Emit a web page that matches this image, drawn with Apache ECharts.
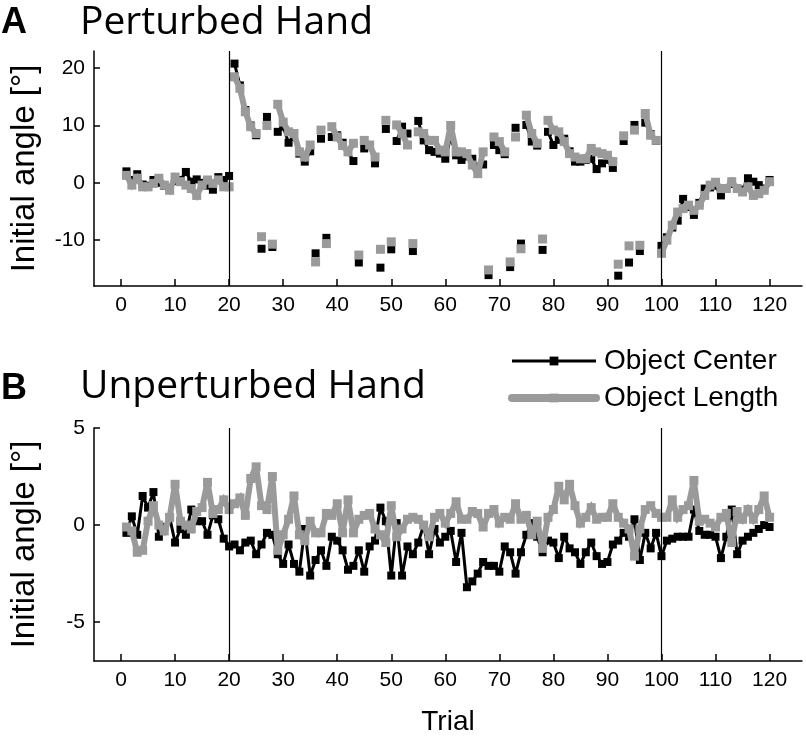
<!DOCTYPE html>
<html><head><meta charset="utf-8">
<script src="https://cdn.jsdelivr.net/npm/echarts@6/dist/echarts.min.js"></script>
<style>html,body{margin:0;padding:0;background:#fff}#c{width:806px;height:741px}</style>
</head><body><div id="c"></div>
<script>
const trials = [1,2,3,4,5,6,7,8,9,10,11,12,13,14,15,16,17,18,19,20,
  21,22,23,24,25,26,27,28,29,30,31,32,33,34,35,36,37,38,39,40,
  41,42,43,44,45,46,47,48,49,50,51,52,53,54,55,56,57,58,59,60,
  61,62,63,64,65,66,67,68,69,70,71,72,73,74,75,76,77,78,79,80,
  81,82,83,84,85,86,87,88,89,90,91,92,93,94,95,96,97,98,99,100,
  101,102,103,104,105,106,107,108,109,110,111,112,113,114,115,116,117,118,119,120];

const xTicks = [0,10,20,30,40,50,60,70,80,90,100,110,120];
const yTicksPerturbed = [-10,0,10,20];
const yTicksUnperturbed = [-5,0,5];
const phaseBoundaries = [20,100];
// trial ranges of the three phases (baseline, perturbation, washout)
const phases = [[1,20],[21,99],[100,120]];
// catch trials in the perturbation phase (plotted as unconnected squares)
const catchTrials = [26,28,36,38,44,48,50,54,68,72,74,78,92,94,96];

// Panel A: Perturbed Hand
const perturbedCenter = [2.0,0.5,1.5,-0.3,-0.5,0.5,0.0,-0.5,-1.0,0.3,0.5,1.9,0.2,0.6,0.0,-0.5,-1.2,1.0,0.5,1.2,
  20.8,17.0,12.7,10.0,8.3,-11.5,11.5,-11.2,8.9,9.8,7.0,8.0,5.1,3.7,5.5,-12.3,7.7,-9.6,8.0,8.3,
  7.0,5.5,3.8,-13.9,6.0,6.5,3.4,-14.8,9.4,-11.6,7.3,9.8,8.6,-11.9,10.8,7.4,5.7,5.4,5.1,4.2,
  8.0,4.8,4.0,4.6,4.2,2.8,3.2,-16.1,6.6,5.7,5.0,-14.7,9.6,-10.6,10.1,7.2,6.5,-11.7,8.9,6.6,
  7.5,7.7,5.5,3.7,3.7,4.0,4.2,2.4,3.4,4.0,2.6,-16.2,7.3,-13.9,10.1,-11.9,10.5,8.5,7.3,-11.0,
  -9.5,-7.8,-6.6,-2.8,-4.2,-5.6,-3.5,-1.0,-0.8,-0.5,-2.2,-1.0,-0.2,-1.0,-1.2,0.8,0.2,-0.4,-1.0,0.5];
const perturbedLength = [1.3,-0.4,0.8,-0.7,-0.7,-0.1,0.8,-0.4,-1.3,1.0,0.2,-0.4,-1.0,-2.2,-0.4,0.5,-0.1,0.5,-0.7,-0.7,
  18.5,16.5,12.4,9.8,8.6,-9.4,10.0,-10.7,13.7,10.6,8.9,8.6,5.4,4.5,6.6,-13.8,9.2,-10.6,9.8,8.0,
  6.5,5.4,6.9,-12.6,7.4,6.6,4.5,-11.6,10.9,-10.3,10.1,8.6,6.6,-10.6,8.9,8.6,7.4,7.4,5.7,5.4,
  10.0,5.4,5.4,5.1,3.1,1.6,5.4,-15.2,8.0,7.2,5.4,-13.8,8.0,-11.5,11.8,8.6,6.9,-9.8,10.9,9.2,
  8.9,7.2,5.1,4.5,4.2,4.2,6.0,5.4,5.1,4.8,3.7,-14.2,8.2,-11.0,9.2,-10.9,12.1,8.3,7.4,-12.3,
  -10.0,-7.4,-5.1,-4.5,-3.9,-4.8,-3.9,-2.2,-0.4,0.1,-1.0,-1.0,0.2,-1.0,-1.6,-0.7,-2.2,-1.9,-1.3,0.2];

// Panel B: Unperturbed Hand
const unperturbedCenter = [-0.4,0.45,-0.5,1.5,0.9,1.7,-0.6,-0.1,0.4,-0.9,-0.2,-0.5,0.8,0.2,0.2,-0.5,0.5,0.3,-0.7,-1.1,
  -1.0,-1.3,-0.9,-0.8,-1.5,-1.0,-0.4,-0.5,-1.5,-2.0,-1.0,-2.0,-2.4,-0.2,-2.6,-1.8,-1.3,-2.1,-0.6,-0.8,
  -1.3,-2.3,-2.1,-1.3,-2.4,-1.1,-0.8,0.9,0.2,-2.6,0.1,-2.6,-1.1,-1.5,-0.9,0.0,-1.5,-0.2,-0.9,-0.6,
  -0.3,-1.9,-0.4,-3.2,-2.9,-2.5,-1.9,-2.1,-2.1,-2.4,-1.1,-1.4,-2.5,-1.4,-0.5,0.1,-0.6,-1.4,-0.8,-0.9,
  -1.7,-0.6,-1.2,-1.4,-2.0,-1.4,-0.9,-1.6,-2.0,-1.9,-1.0,-0.8,-0.4,-0.6,0.3,-1.8,-0.4,-1.2,-0.4,-1.6,
  -0.8,-0.7,-0.6,-0.6,-0.6,0.8,-0.3,-0.5,-0.5,-0.6,-1.7,-0.6,0.8,-1.5,-0.8,-0.6,-0.4,-0.2,0.0,-0.1];
const unperturbedLength = [-0.1,-0.3,-1.4,-1.3,0.2,1.0,0.0,-0.3,0.4,2.1,0.2,0.0,-0.2,0.7,0.9,2.2,0.6,0.8,1.3,0.8,
  1.1,1.4,0.5,2.4,3.0,1.0,0.8,2.5,-1.3,-0.5,0.3,1.5,-0.5,-0.8,0.2,-0.4,-0.4,0.6,0.5,1.1,
  -0.4,1.3,-0.4,0.3,0.5,0.6,-0.2,-0.5,-0.9,1.0,-0.6,-0.2,0.3,0.4,0.3,0.0,-0.6,0.4,0.6,0.1,
  0.6,1.2,0.3,0.3,0.7,0.6,-0.1,0.6,0.8,0.1,0.4,0.3,1.1,0.3,0.5,-0.5,0.2,-1.2,0.4,0.8,
  2.0,1.3,2.1,1.0,0.1,0.4,0.9,0.3,0.4,0.4,1.1,0.4,0.1,-0.2,-1.6,-0.2,0.8,1.0,0.6,0.4,
  0.4,1.3,0.4,0.8,1.0,2.3,0.2,0.3,0.1,-0.1,0.4,0.6,-0.9,0.7,0.3,0.8,0.3,0.8,1.5,0.4];

const BLACK = '#000000';
const GRAY = '#9a9a9a';
const TICK_FONT = 'Liberation Sans';

const styles = {
  'Object Center': {color: BLACK, lineWidth: 3, symbolSize: 8, z: 3},
  'Object Length': {color: GRAY, lineWidth: 6, symbolSize: 9, z: 4}
};

function lineSeries(name, gridIdx, data) {
  const s = styles[name];
  return {
    name, type: 'line', xAxisIndex: gridIdx, yAxisIndex: gridIdx,
    data, symbol: 'rect', symbolSize: s.symbolSize, showAllSymbol: true,
    connectNulls: false, animation: false, silent: true, z: s.z,
    itemStyle: {color: s.color, borderWidth: 0},
    lineStyle: {color: s.color, width: s.lineWidth, join: 'miter', miterLimit: 2.5},
    emphasis: {disabled: true}
  };
}

const series = [];
// Panel A: connected segments per phase, catch trials left out of the lines
[['Object Center', perturbedCenter], ['Object Length', perturbedLength]].forEach(([name, vals]) => {
  phases.forEach(([a, b]) => {
    const data = [];
    trials.forEach((t, i) => {
      if (t >= a && t <= b) data.push([t, catchTrials.includes(t) ? '-' : vals[i]]);
    });
    series.push(lineSeries(name, 0, data));
  });
  const catchData = trials.filter(t => catchTrials.includes(t)).map(t => [t, vals[trials.indexOf(t)]]);
  const sc = lineSeries(name, 0, catchData);
  sc.name = name + ' (catch)';
  sc.lineStyle = {width: 0, opacity: 0};
  series.push(sc);
});
// Panel B: fully connected
series.push(lineSeries('Object Center', 1, trials.map((t, i) => [t, unperturbedCenter[i]])));
series.push(lineSeries('Object Length', 1, trials.map((t, i) => [t, unperturbedLength[i]])));

// phase boundary lines
[0, 1].forEach(g => {
  series.push({
    type: 'line', xAxisIndex: g, yAxisIndex: g, data: [], silent: true, animation: false,
    markLine: {
      silent: true, symbol: 'none', animation: false,
      label: {show: false},
      lineStyle: {color: BLACK, width: 1.2, type: 'solid'},
      emphasis: {disabled: true},
      data: phaseBoundaries.map(x => ({xAxis: x}))
    }
  });
});

function xAxis(gridIndex, withName) {
  return {
    type: 'value', gridIndex, min: -5, max: 126,
    name: withName ? 'Trial' : '', nameLocation: 'middle', nameGap: 47,
    nameTextStyle: {fontFamily: TICK_FONT, fontSize: 28, color: BLACK},
    axisLine: {show: true, onZero: false, lineStyle: {color: BLACK, width: 1.5}},
    axisTick: {show: true, inside: true, length: 7, customValues: xTicks, lineStyle: {color: BLACK, width: 1.5}},
    axisLabel: {show: true, customValues: xTicks, margin: 9, fontFamily: TICK_FONT, fontSize: 21, color: BLACK},
    splitLine: {show: false}
  };
}
function yAxis(gridIndex, min, max, ticks) {
  return {
    type: 'value', gridIndex, min, max,
    name: 'Initial angle [°]', nameLocation: 'middle', nameGap: 53, nameRotate: 90,
    nameTextStyle: {fontFamily: TICK_FONT, fontSize: 33, color: BLACK},
    axisLine: {show: true, onZero: false, lineStyle: {color: BLACK, width: 1.5}},
    axisTick: {show: true, inside: true, length: 6, customValues: ticks, lineStyle: {color: BLACK, width: 1.5}},
    axisLabel: {show: true, customValues: ticks, margin: 9, fontFamily: TICK_FONT, fontSize: 21, color: BLACK},
    splitLine: {show: false}
  };
}

const chart = echarts.init(document.getElementById('c'), null, {renderer: 'canvas'});
chart.setOption({
  backgroundColor: '#ffffff',
  animation: false,
  title: [
    {text: 'A', left: 1, top: 5, padding: 0, textStyle: {fontFamily: TICK_FONT, fontWeight: 'bold', fontSize: 36, color: BLACK}},
    {text: 'Perturbed Hand', left: 80, top: 3, padding: 0, textStyle: {fontFamily: 'Open Sans', fontWeight: 'normal', fontSize: 39, color: BLACK}},
    {text: 'B', left: 1, top: 371, padding: 0, textStyle: {fontFamily: TICK_FONT, fontWeight: 'bold', fontSize: 36, color: BLACK}},
    {text: 'Unperturbed Hand', left: 80, top: 367, padding: 0, textStyle: {fontFamily: 'Open Sans', fontWeight: 'normal', fontSize: 39, color: BLACK}}
  ],
  legend: {
    orient: 'vertical', left: 508, top: 347, padding: 0,
    itemWidth: 84, itemHeight: 11, itemGap: 9,
    selectedMode: false,
    data: [
      {name: 'Object Center', lineStyle: {width: 3}},
      {name: 'Object Length', lineStyle: {width: 8, cap: 'round'}}
    ],
    textStyle: {fontFamily: TICK_FONT, fontSize: 28, color: BLACK, padding: [0, 0, 0, 3]}
  },
  grid: [
    {left: 90, top: 51, width: 712, height: 235},
    {left: 90, top: 428, width: 712, height: 233}
  ],
  xAxis: [xAxis(0, false), xAxis(1, true)],
  yAxis: [yAxis(0, -18, 23, yTicksPerturbed), yAxis(1, -7, 5, yTicksUnperturbed)],
  series
});
</script>
</body></html>
